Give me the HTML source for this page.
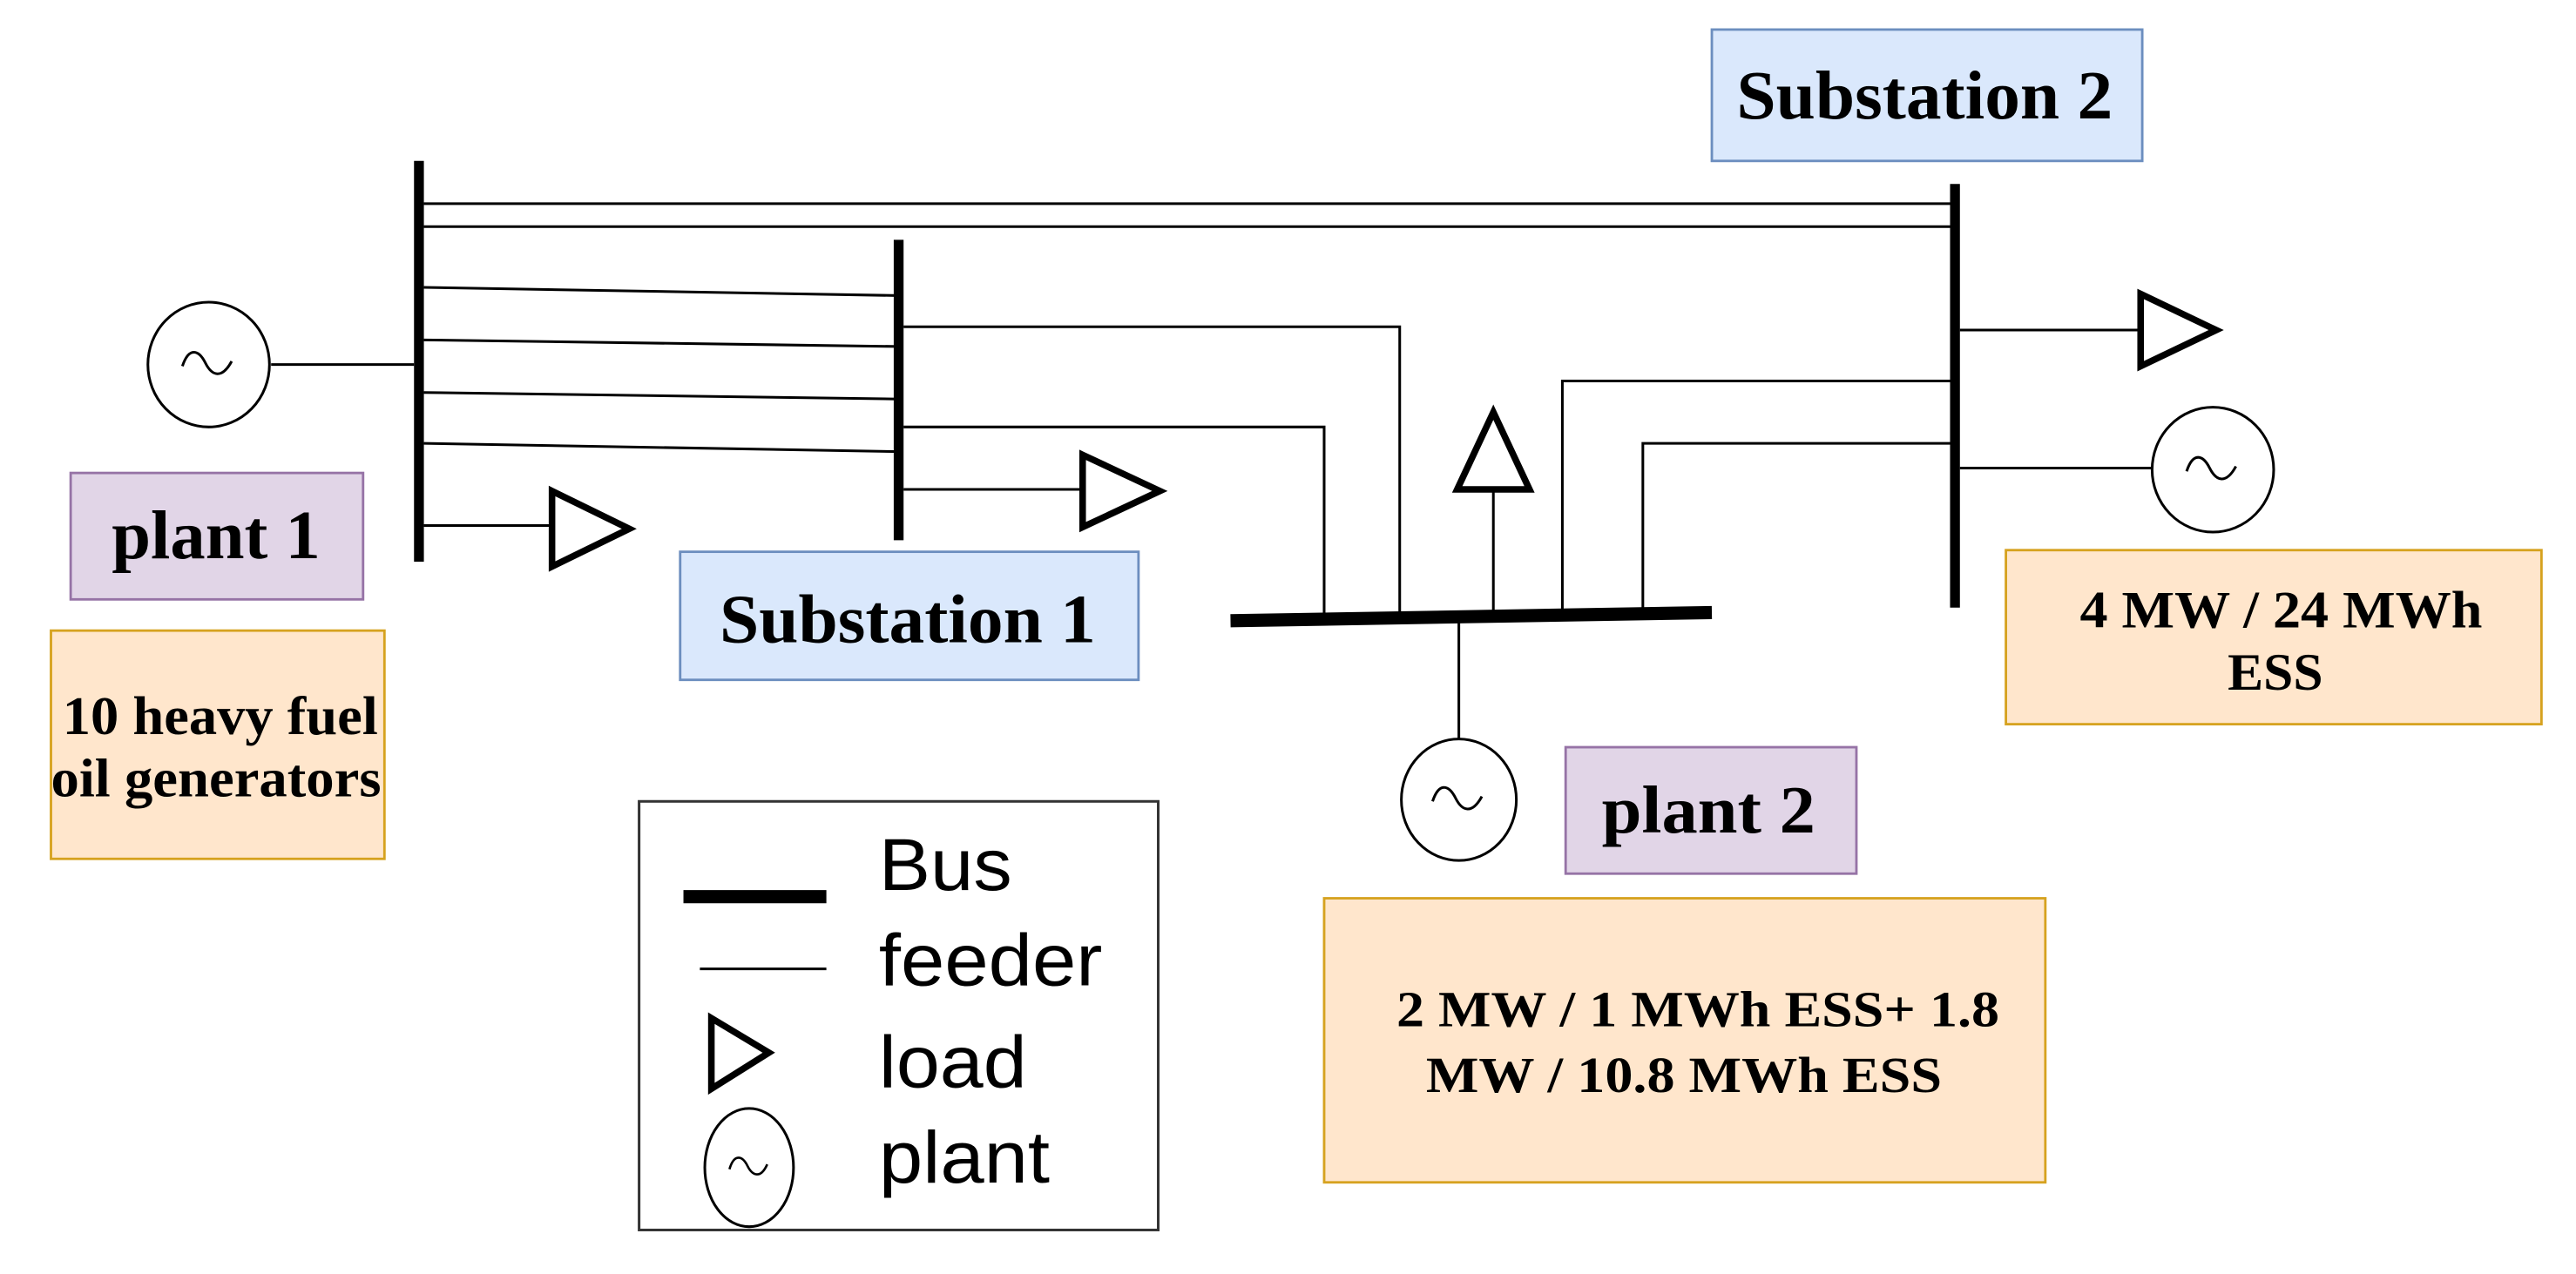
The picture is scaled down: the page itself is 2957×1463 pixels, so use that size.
<!DOCTYPE html>
<html><head><meta charset="utf-8"><style>html,body{margin:0;padding:0;background:#fff}svg{display:block}</style></head>
<body>
<svg width="2957" height="1463" viewBox="0 0 1568 775.8" xmlns="http://www.w3.org/2000/svg">
<g fill="none" stroke="#000">
<g stroke-width="1.6">
<line x1="258" y1="124" x2="1190" y2="124"/>
<line x1="258" y1="138" x2="1190" y2="138"/>
<line x1="258" y1="175" x2="547" y2="180"/>
<line x1="258" y1="207" x2="547" y2="211"/>
<line x1="258" y1="239" x2="547" y2="243"/>
<line x1="258" y1="270" x2="547" y2="275"/>
<line x1="165" y1="222" x2="252" y2="222"/>
<line x1="258" y1="320" x2="336" y2="320"/>
<polyline points="550,199 852,199 852,375"/>
<polyline points="550,260 806,260 806,376"/>
<line x1="550" y1="298" x2="658" y2="298"/>
<line x1="909" y1="298" x2="909" y2="375"/>
<polyline points="951,374 951,232 1188,232"/>
<polyline points="1000,374 1000,270 1188,270"/>
<line x1="888" y1="378" x2="888" y2="450"/>
<line x1="1193" y1="201" x2="1302" y2="201"/>
<line x1="1193" y1="285" x2="1310" y2="285"/>
</g>
<g stroke-width="6">
<line x1="255" y1="98" x2="255" y2="342"/>
<line x1="547" y1="146" x2="547" y2="329"/>
<line x1="1190" y1="112" x2="1190" y2="370"/>
</g>
<line x1="749" y1="378" x2="1042" y2="373" stroke-width="8"/>
<g stroke-width="4">
<polygon points="336,299 383,322 336,345"/>
<polygon points="659,277 706,299 659,321"/>
<polygon points="909,251 931,298 887,298"/>
<polygon points="1303,179 1349,201 1303,223"/>
</g>
<g stroke-width="1.6">
<ellipse cx="127" cy="222" rx="37" ry="38"/>
<path d="M111,223 c4,-12 10,-10 14,-2 s10,10 16,-1"/>
<ellipse cx="888" cy="487" rx="35" ry="37"/>
<path d="M872,488 c4,-12 10,-10 14,-2 s10,10 16,-1"/>
<ellipse cx="1347" cy="286" rx="37" ry="38"/>
<path d="M1331,287 c4,-12 10,-10 14,-2 s10,10 16,-1"/>
</g>
</g>
<rect x="43" y="288" width="178" height="77" fill="#e1d5e7" stroke="#9673a6" stroke-width="1.5"/>
<rect x="31" y="384" width="203" height="139" fill="#ffe6cc" stroke="#d6a21f" stroke-width="1.5"/>
<rect x="414" y="336" width="279" height="78" fill="#dae8fc" stroke="#6c8ebf" stroke-width="1.5"/>
<rect x="1042" y="18" width="262" height="80" fill="#dae8fc" stroke="#6c8ebf" stroke-width="1.5"/>
<rect x="953" y="455" width="177" height="77" fill="#e1d5e7" stroke="#9673a6" stroke-width="1.5"/>
<rect x="806" y="547" width="439" height="173" fill="#ffe6cc" stroke="#d6a21f" stroke-width="1.5"/>
<rect x="1221" y="335" width="326" height="106" fill="#ffe6cc" stroke="#d6a21f" stroke-width="1.5"/>
<g font-family="Liberation Serif, serif" font-weight="bold" fill="#000">
<text x="68" y="340" font-size="42" textLength="127" lengthAdjust="spacingAndGlyphs">plant 1</text>
<text x="38" y="447" font-size="33" textLength="192" lengthAdjust="spacingAndGlyphs">10 heavy fuel</text>
<text x="31" y="485" font-size="33" textLength="201" lengthAdjust="spacingAndGlyphs">oil generators</text>
<text x="438" y="391" font-size="42" textLength="229" lengthAdjust="spacingAndGlyphs">Substation 1</text>
<text x="1057" y="72" font-size="42" textLength="229" lengthAdjust="spacingAndGlyphs">Substation 2</text>
<text x="975" y="507" font-size="41" textLength="130" lengthAdjust="spacingAndGlyphs">plant 2</text>
<text x="850" y="625" font-size="31" textLength="367" lengthAdjust="spacingAndGlyphs">2 MW / 1 MWh ESS+ 1.8</text>
<text x="868" y="665" font-size="31" textLength="314" lengthAdjust="spacingAndGlyphs">MW / 10.8 MWh ESS</text>
<text x="1266" y="382" font-size="32" textLength="245" lengthAdjust="spacingAndGlyphs">4 MW / 24 MWh</text>
<text x="1356" y="420" font-size="32" textLength="58" lengthAdjust="spacingAndGlyphs">ESS</text>
</g>
<rect x="389" y="488" width="316" height="261" fill="#fff" stroke="#333" stroke-width="1.6"/>
<line x1="416" y1="546" x2="503" y2="546" stroke="#000" stroke-width="8"/>
<line x1="426" y1="590" x2="503" y2="590" stroke="#000" stroke-width="1.6"/>
<polygon points="433,620 468,641 433,663" fill="none" stroke="#000" stroke-width="4"/>
<ellipse cx="456" cy="711" rx="27" ry="36" fill="none" stroke="#000" stroke-width="1.6"/>
<path d="M444,712 c3,-10 8,-8 11,-2 s8,8 12,-1" fill="none" stroke="#000" stroke-width="1.4"/>
<g font-family="Liberation Sans, sans-serif" font-size="45" fill="#000">
<text x="535" y="542" textLength="81" lengthAdjust="spacingAndGlyphs">Bus</text>
<text x="535" y="600" textLength="136" lengthAdjust="spacingAndGlyphs">feeder</text>
<text x="535" y="662" textLength="90" lengthAdjust="spacingAndGlyphs">load</text>
<text x="535" y="720" textLength="104" lengthAdjust="spacingAndGlyphs">plant</text>
</g>
</svg>
</body></html>
